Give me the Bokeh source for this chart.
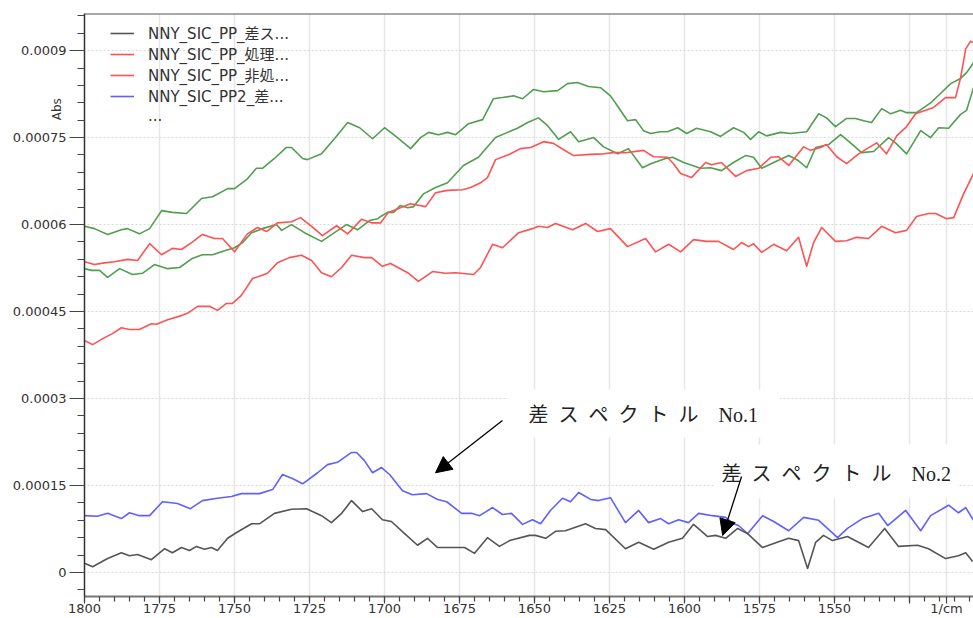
from bokeh.plotting import figure
from bokeh.models import (FixedTicker, Range1d, Legend, LegendItem, Label, Arrow,
                          NormalHead, Span)
from bokeh.embed import file_html
from bokeh.resources import INLINE

# ---------------- data (wavenumber in 1/cm, absorbance in Abs) ----------------
wn_black = [1800, 1797.3, 1792.3, 1787.7, 1785, 1782.3, 1777.7, 1773.3, 1770.7, 1767.7, 1765, 1762.7, 1760, 1757.7, 1755.7, 1752.3, 1749.3, 1744.3, 1741.7, 1736.7, 1731, 1726, 1721, 1717.7, 1714.3, 1711, 1707.3, 1704.3, 1700.7, 1697.7, 1693.3, 1689, 1685.7, 1682.3, 1677.7, 1673.3, 1670, 1665.7, 1661.7, 1658.3, 1651.7, 1649.7, 1646.3, 1643, 1639.7, 1633, 1629.7, 1626.3, 1619.7, 1615.3, 1610.3, 1605.3, 1600.7, 1597, 1592.3, 1589.7, 1586.3, 1582.3, 1579, 1574, 1570.3, 1565.3, 1562, 1559, 1556.3, 1553.7, 1550.7, 1545.7, 1538.7, 1533.3, 1528.7, 1522.3, 1518.7, 1513, 1508.7, 1506.3, 1504]
abs_black = [16e-6, 10e-6, 24e-6, 34e-6, 29e-6, 31e-6, 22e-6, 41e-6, 34e-6, 43e-6, 38e-6, 45e-6, 40e-6, 43e-6, 38e-6, 59e-6, 69e-6, 84e-6, 84e-6, 102e-6, 109e-6, 110e-6, 98e-6, 86e-6, 102e-6, 124e-6, 105e-6, 110e-6, 91e-6, 88e-6, 67e-6, 47e-6, 59e-6, 43e-6, 43e-6, 43e-6, 33e-6, 60e-6, 45e-6, 55e-6, 64e-6, 64e-6, 59e-6, 71e-6, 72e-6, 84e-6, 76e-6, 74e-6, 41e-6, 52e-6, 40e-6, 52e-6, 59e-6, 83e-6, 62e-6, 64e-6, 59e-6, 76e-6, 67e-6, 43e-6, 50e-6, 59e-6, 55e-6, 7e-6, 52e-6, 64e-6, 55e-6, 62e-6, 43e-6, 76e-6, 45e-6, 47e-6, 41e-6, 24e-6, 29e-6, 34e-6, 19e-6]

wn_blue = [1800, 1795.7, 1792.3, 1787.7, 1785, 1781.7, 1778.3, 1774, 1769, 1764.7, 1760.7, 1755.7, 1751, 1747.7, 1741.7, 1737.3, 1734, 1730.7, 1727.3, 1722.3, 1719, 1715.7, 1711, 1709.3, 1706.7, 1704, 1701, 1698.3, 1694, 1690.7, 1686, 1682.3, 1679.3, 1674.3, 1671, 1668.3, 1664, 1660.7, 1657.7, 1654, 1650.7, 1648, 1644.7, 1640.7, 1638, 1635.3, 1631.3, 1628.7, 1624.7, 1619.7, 1615.3, 1612, 1608, 1605.3, 1602, 1598.7, 1595.3, 1590.7, 1586.3, 1583.7, 1582, 1579, 1574, 1570.3, 1565.3, 1560.3, 1555.3, 1549, 1545.7, 1540.7, 1535.3, 1532.3, 1526.3, 1521.3, 1518, 1512, 1508.7, 1506.3, 1503.7]
abs_blue = [98e-6, 97e-6, 102e-6, 93e-6, 103e-6, 98e-6, 98e-6, 122e-6, 119e-6, 110e-6, 124e-6, 128e-6, 131e-6, 136e-6, 136e-6, 143e-6, 169e-6, 162e-6, 153e-6, 172e-6, 186e-6, 190e-6, 207e-6, 207e-6, 193e-6, 172e-6, 181e-6, 169e-6, 141e-6, 134e-6, 136e-6, 126e-6, 122e-6, 102e-6, 102e-6, 98e-6, 112e-6, 100e-6, 102e-6, 83e-6, 91e-6, 84e-6, 107e-6, 128e-6, 122e-6, 138e-6, 126e-6, 124e-6, 129e-6, 86e-6, 107e-6, 86e-6, 93e-6, 84e-6, 91e-6, 86e-6, 102e-6, 98e-6, 95e-6, 84e-6, 81e-6, 67e-6, 98e-6, 88e-6, 72e-6, 95e-6, 90e-6, 60e-6, 76e-6, 93e-6, 102e-6, 81e-6, 107e-6, 72e-6, 98e-6, 116e-6, 103e-6, 112e-6, 90e-6]

wn_red1 = [1800, 1796.7, 1793.3, 1790, 1785.7, 1782.3, 1778.3, 1774.3, 1770.7, 1767.7, 1764.3, 1760.7, 1756.7, 1754, 1750, 1745.7, 1742.3, 1739.3, 1735.7, 1731, 1728, 1724.3, 1720.7, 1716, 1712.3, 1707.7, 1704.3, 1701.3, 1698.7, 1694.7, 1691.3, 1686.3, 1683, 1679, 1674, 1671.3, 1668, 1665.7, 1663, 1658, 1654.7, 1651.3, 1647, 1643.7, 1640.3, 1637, 1631.3, 1627, 1623.7, 1619.7, 1613.7, 1610.3, 1605.7, 1603.7, 1601.3, 1597.7, 1593, 1591, 1587.7, 1583, 1579.3, 1575.3, 1571.3, 1568.7, 1565.3, 1560.3, 1558, 1554.7, 1552.7, 1549.3, 1546, 1542, 1536, 1532.7, 1529.3, 1526, 1523, 1517, 1513, 1509.7, 1508, 1506.3, 1504.7, 1503.7]
abs_red1 = [536e-6, 531e-6, 534e-6, 536e-6, 540e-6, 538e-6, 567e-6, 548e-6, 559e-6, 557e-6, 569e-6, 583e-6, 576e-6, 576e-6, 553e-6, 584e-6, 595e-6, 588e-6, 603e-6, 605e-6, 612e-6, 597e-6, 581e-6, 598e-6, 584e-6, 609e-6, 603e-6, 603e-6, 621e-6, 629e-6, 636e-6, 631e-6, 655e-6, 659e-6, 660e-6, 664e-6, 672e-6, 681e-6, 712e-6, 722e-6, 731e-6, 733e-6, 743e-6, 740e-6, 729e-6, 719e-6, 721e-6, 722e-6, 724e-6, 724e-6, 728e-6, 717e-6, 716e-6, 705e-6, 688e-6, 681e-6, 707e-6, 703e-6, 707e-6, 683e-6, 693e-6, 697e-6, 716e-6, 717e-6, 702e-6, 734e-6, 728e-6, 733e-6, 738e-6, 717e-6, 705e-6, 722e-6, 741e-6, 722e-6, 753e-6, 769e-6, 791e-6, 802e-6, 819e-6, 819e-6, 853e-6, 903e-6, 916e-6, 914e-6]

wn_red2 = [1800, 1797.3, 1793.3, 1790.7, 1787.7, 1785, 1781.7, 1777.7, 1776, 1772.3, 1767.7, 1765.7, 1762.3, 1758.3, 1755.7, 1752.7, 1750.7, 1747.7, 1744, 1741, 1739, 1735.7, 1731.7, 1727.7, 1724.3, 1721, 1717.7, 1714.3, 1711, 1706.7, 1704.3, 1700.7, 1698, 1692.3, 1688.7, 1684, 1679.7, 1676.3, 1670.3, 1668, 1664, 1660.7, 1655.3, 1650.7, 1648.7, 1645.7, 1643, 1637.3, 1633, 1629, 1624.7, 1619, 1613, 1609.7, 1605.3, 1601.3, 1597, 1592.7, 1588.7, 1583.7, 1581, 1578.7, 1577, 1574.3, 1570.3, 1566, 1562, 1559.3, 1557, 1554.3, 1549.7, 1546, 1542.7, 1538.7, 1534.3, 1529.7, 1526, 1522.7, 1518.7, 1516.3, 1512.7, 1510.3, 1507, 1503.7]
abs_red2 = [400e-6, 393e-6, 405e-6, 412e-6, 422e-6, 419e-6, 419e-6, 429e-6, 428e-6, 436e-6, 443e-6, 447e-6, 459e-6, 459e-6, 452e-6, 464e-6, 464e-6, 478e-6, 507e-6, 512e-6, 516e-6, 534e-6, 543e-6, 547e-6, 538e-6, 517e-6, 510e-6, 526e-6, 547e-6, 543e-6, 543e-6, 528e-6, 533e-6, 517e-6, 502e-6, 519e-6, 516e-6, 517e-6, 514e-6, 526e-6, 566e-6, 560e-6, 586e-6, 593e-6, 597e-6, 595e-6, 602e-6, 591e-6, 602e-6, 588e-6, 593e-6, 562e-6, 576e-6, 553e-6, 566e-6, 553e-6, 574e-6, 571e-6, 571e-6, 557e-6, 569e-6, 562e-6, 567e-6, 552e-6, 566e-6, 555e-6, 578e-6, 528e-6, 569e-6, 595e-6, 571e-6, 572e-6, 578e-6, 576e-6, 597e-6, 586e-6, 590e-6, 614e-6, 619e-6, 619e-6, 610e-6, 612e-6, 653e-6, 688e-6]

wn_green1 = [1800, 1796.7, 1792.3, 1787.7, 1785.7, 1781.7, 1778.3, 1774.3, 1770.7, 1766, 1761, 1757.3, 1752.3, 1750, 1745.7, 1742.7, 1740.7, 1736.7, 1732.7, 1731, 1727.3, 1725.7, 1721, 1716.7, 1712.3, 1708.3, 1704, 1700, 1695.7, 1691.3, 1688, 1685.3, 1682, 1679, 1676.3, 1672, 1667.3, 1663.7, 1660.7, 1657, 1654, 1650.3, 1647, 1642.3, 1639, 1635.7, 1632, 1628, 1624.7, 1622, 1619, 1616.3, 1613.7, 1611.3, 1608, 1605.7, 1602.3, 1599.3, 1596, 1591.3, 1588, 1583.7, 1580.3, 1578, 1575.3, 1572.7, 1568, 1564.7, 1559.3, 1555.3, 1552.7, 1549.7, 1546, 1543, 1540.3, 1537.7, 1534.3, 1531.3, 1528, 1526, 1522.7, 1518, 1514.7, 1511.3, 1508, 1506, 1503.7]
abs_green1 = [597e-6, 593e-6, 583e-6, 591e-6, 593e-6, 584e-6, 593e-6, 624e-6, 621e-6, 619e-6, 645e-6, 648e-6, 662e-6, 662e-6, 679e-6, 697e-6, 697e-6, 714e-6, 733e-6, 733e-6, 714e-6, 712e-6, 722e-6, 748e-6, 776e-6, 767e-6, 748e-6, 767e-6, 750e-6, 731e-6, 750e-6, 759e-6, 755e-6, 759e-6, 755e-6, 774e-6, 781e-6, 817e-6, 819e-6, 822e-6, 817e-6, 833e-6, 829e-6, 831e-6, 843e-6, 845e-6, 838e-6, 836e-6, 822e-6, 802e-6, 779e-6, 781e-6, 762e-6, 757e-6, 760e-6, 760e-6, 767e-6, 757e-6, 766e-6, 760e-6, 752e-6, 767e-6, 759e-6, 747e-6, 760e-6, 753e-6, 759e-6, 757e-6, 760e-6, 791e-6, 784e-6, 769e-6, 783e-6, 783e-6, 779e-6, 776e-6, 800e-6, 791e-6, 797e-6, 793e-6, 793e-6, 810e-6, 826e-6, 843e-6, 852e-6, 862e-6, 879e-6]

wn_green2 = [1800, 1797.7, 1795, 1792.3, 1788.3, 1784, 1780.7, 1776.7, 1772.3, 1768.3, 1764.3, 1760.7, 1757.3, 1753.3, 1750, 1747.3, 1744.3, 1740.7, 1736, 1734.3, 1731, 1726.7, 1721, 1717.3, 1712.7, 1709, 1705, 1702.3, 1701.3, 1699, 1697, 1694.7, 1692.3, 1690.3, 1687, 1683, 1679, 1673.7, 1668.7, 1663, 1659, 1655.7, 1652.3, 1648.7, 1645.7, 1642, 1638, 1635.3, 1630.3, 1627, 1622.3, 1618.7, 1614, 1611.3, 1606.3, 1604, 1600.3, 1594.7, 1591.3, 1587.7, 1583.7, 1579.7, 1577, 1574.3, 1570.3, 1565.3, 1562, 1559.3, 1556.3, 1552, 1548, 1544.7, 1541, 1537, 1532, 1529.7, 1526, 1521.3, 1518, 1515.3, 1512, 1508, 1506, 1503.7]
abs_green2 = [524e-6, 521e-6, 521e-6, 509e-6, 524e-6, 514e-6, 516e-6, 531e-6, 524e-6, 526e-6, 541e-6, 548e-6, 548e-6, 555e-6, 560e-6, 569e-6, 586e-6, 593e-6, 600e-6, 590e-6, 600e-6, 586e-6, 571e-6, 584e-6, 600e-6, 591e-6, 607e-6, 610e-6, 614e-6, 621e-6, 621e-6, 633e-6, 629e-6, 631e-6, 653e-6, 664e-6, 672e-6, 702e-6, 716e-6, 750e-6, 759e-6, 766e-6, 776e-6, 784e-6, 771e-6, 747e-6, 760e-6, 743e-6, 750e-6, 734e-6, 722e-6, 731e-6, 698e-6, 705e-6, 714e-6, 716e-6, 707e-6, 697e-6, 698e-6, 693e-6, 707e-6, 719e-6, 716e-6, 697e-6, 707e-6, 719e-6, 710e-6, 698e-6, 733e-6, 738e-6, 755e-6, 741e-6, 724e-6, 726e-6, 750e-6, 741e-6, 722e-6, 762e-6, 750e-6, 767e-6, 766e-6, 790e-6, 797e-6, 836e-6]

legend_labels = ["NNY_SIC_PP_差ス...", "NNY_SIC_PP_処理...", "NNY_SIC_PP_非処...",
                 "NNY_SIC_PP2_差...", "..."]

x_major_ticks = [1800, 1775, 1750, 1725, 1700, 1675, 1650, 1625, 1600, 1575, 1550, 1525, 1512.7]
x_tick_overrides = {1525: "", 1512.7: "1/cm"}
x_minor_ticks = list(range(1800, 1500, -5))
y_major_ticks = [0.0, 0.00015, 0.0003, 0.00045, 0.0006, 0.00075, 0.0009]
y_tick_labels = ["0", "0.00015", "0.0003", "0.00045", "0.0006", "0.00075", "0.0009"]
y_minor_ticks = [i * 0.00003 for i in range(-1, 33)]

y_axis_label = "Abs"
note1_text = "差\u2002ス\u2002ペ\u2002ク\u2002ト\u2002ル\u2002\u2002No.1"
note2_text = "差\u2002ス\u2002ペ\u2002ク\u2002ト\u2002ル\u2002\u2002No.2"

# ---------------- figure ----------------
X_START, X_END = 1800, 1503.7
Y_START, Y_END = -0.0000414, 0.000964

p = figure(width=973, height=618, output_backend="svg", toolbar_location=None,
           x_range=Range1d(X_START, X_END), y_range=Range1d(Y_START, Y_END),
           min_border_left=84, min_border_top=13, min_border_bottom=0,
           min_border_right=0)
p.outline_line_color = None
p.background_fill_color = "white"
p.border_fill_color = "white"

p.xaxis.ticker = FixedTicker(ticks=x_major_ticks, minor_ticks=x_minor_ticks)
p.xaxis.major_label_overrides = x_tick_overrides
p.yaxis.ticker = FixedTicker(ticks=y_major_ticks, minor_ticks=y_minor_ticks)
p.yaxis.major_label_overrides = {v: s for v, s in zip(y_major_ticks, y_tick_labels)}

for ax in (p.xaxis[0], p.yaxis[0]):
    ax.major_label_text_font = "DejaVu Sans"
    ax.major_label_text_font_size = "13px"
    ax.major_label_text_color = "#333333"
    ax.major_tick_in = 0
    ax.minor_tick_in = 0
    ax.major_tick_line_color = "#444444"
    ax.minor_tick_line_color = "#444444"
    ax.major_tick_line_width = 1.2
    ax.minor_tick_line_width = 1.2

yax = p.yaxis[0]
yax.axis_line_color = "#333333"
yax.axis_line_width = 1.5
yax.major_tick_out = 15
yax.minor_tick_out = 7
yax.major_label_standoff = 3
# centred label; the leading em spaces lift the visible word to the upper part of the axis
yax.axis_label = "\u2003" * 32 + "\u00a0\u00a0" + y_axis_label
yax.axis_label_text_font = "DejaVu Sans"
yax.axis_label_text_font_size = "12px"
yax.axis_label_text_font_style = "normal"
yax.axis_label_text_color = "#333333"
yax.axis_label_standoff = -54

xax = p.xaxis[0]
xax.axis_line_color = "#777777"
xax.axis_line_width = 2
xax.major_tick_out = 7
xax.minor_tick_out = 5
xax.major_label_standoff = -3

p.xgrid.grid_line_color = "#e6e6e6"
p.xgrid.grid_line_width = 1.5
p.ygrid.grid_line_color = "#d8d8d8"
p.ygrid.grid_line_dash = "2 2"

p.add_layout(Span(location=Y_END, dimension="width", line_color="#555555", line_width=2))

# ---------------- curves ----------------
LW = 1.6
kw = dict(line_width=LW, line_join="round")
r_g1 = p.line(wn_green1, abs_green1, line_color="#4f9f4f", **kw)
r_g2 = p.line(wn_green2, abs_green2, line_color="#4f9f4f", **kw)
r_r1 = p.line(wn_red1, abs_red1, line_color="#ff5252", **kw)
r_r2 = p.line(wn_red2, abs_red2, line_color="#ff5252", **kw)
r_b = p.line(wn_blue, abs_blue, line_color="#6060ff", **kw)
r_k = p.line(wn_black, abs_black, line_color="#555555", **kw)
r_dummy = p.line([], [], line_alpha=0)

legend = Legend(
    items=[LegendItem(label=legend_labels[0], renderers=[r_k]),
           LegendItem(label=legend_labels[1], renderers=[r_r1]),
           LegendItem(label=legend_labels[2], renderers=[r_r2]),
           LegendItem(label=legend_labels[3], renderers=[r_b]),
           LegendItem(label=legend_labels[4], renderers=[r_dummy])],
    location=(26, 470), padding=0, margin=0, spacing=0,
    label_height=20, glyph_height=20, glyph_width=24, label_standoff=14,
    background_fill_alpha=0, border_line_color=None,
    label_text_font="DejaVu Sans, Noto Sans CJK JP", label_text_font_size="15px",
    label_text_color="#333333")
p.add_layout(legend)

# ---------------- notes and arrows ----------------
NOTE_FONT = "Liberation Serif, Noto Sans CJK JP"
p.add_layout(Label(x=1658.7, y=0.000274, text=note1_text, text_align="left",
                   text_baseline="middle", text_font=NOTE_FONT,
                   text_font_size="20px", text_color="#222222",
                   background_fill_color="white",
                   padding=dict(left=20, right=22, top=14, bottom=12)))
p.add_layout(Label(x=1590, y=0.000174, text=note2_text, text_align="left",
                   text_baseline="middle", text_font=NOTE_FONT,
                   text_font_size="20px", text_color="#222222",
                   background_fill_color="white",
                   padding=dict(left=7, right=7, top=18, bottom=14)))

head = dict(size=16, fill_color="black", line_color="black")
p.add_layout(Arrow(end=NormalHead(**head),
                   x_start=1660.7, y_start=0.000262, x_end=1683, y_end=0.000172,
                   line_color="black", line_width=1.3))
p.add_layout(Arrow(end=NormalHead(**head),
                   x_start=1581, y_start=0.0001655, x_end=1587.3, y_end=0.0000638,
                   line_color="black", line_width=1.3))

open("out.html", "w").write(file_html(p, INLINE))
